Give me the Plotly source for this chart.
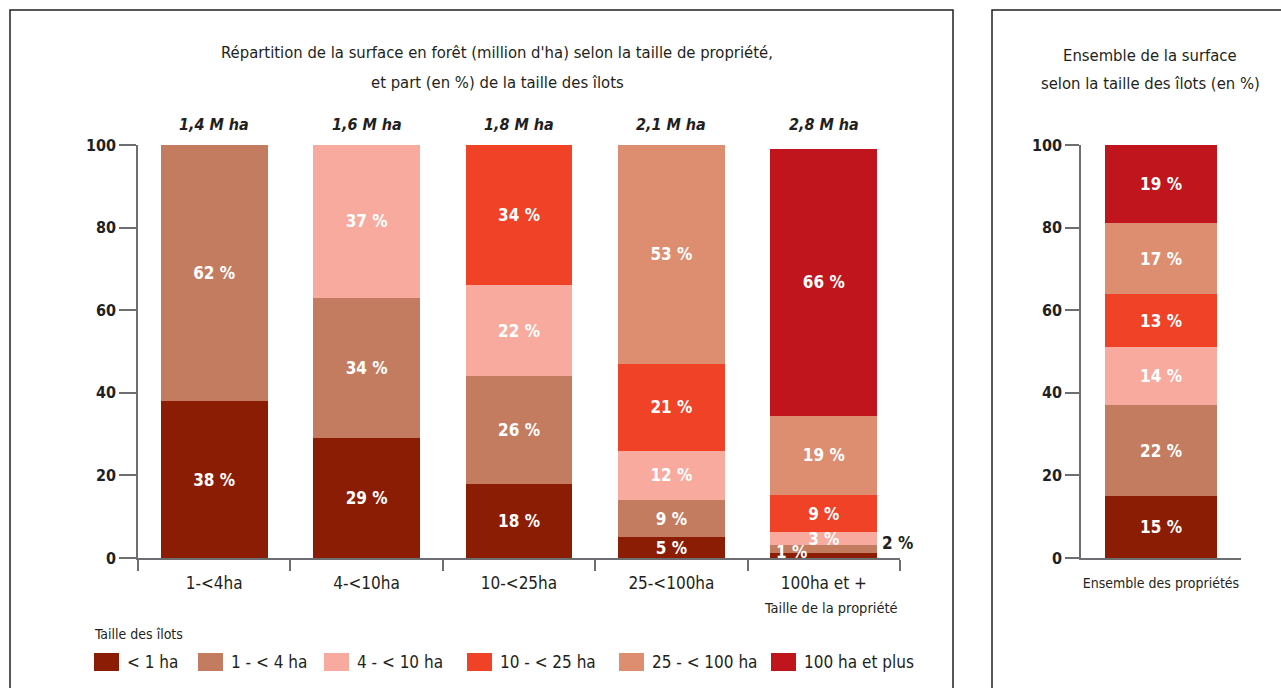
import plotly.graph_objects as go

# ---------------- data ----------------
categories = ["1-<4ha", "4-<10ha", "10-<25ha", "25-<100ha", "100ha et +"]
totals_mha = [1.4, 1.6, 1.8, 2.1, 2.8]

series_names = ["< 1 ha", "1 - < 4 ha", "4 - < 10 ha", "10 - < 25 ha", "25 - < 100 ha", "100 ha et plus"]
colors = ["#8b1d04", "#c47c61", "#f7aa9d", "#ef4226", "#dd8d70", "#c0151c"]

lt1 = [38, 29, 18, 5, 1.3]
s1_4 = [62, 34, 26, 9, 1.9]
s4_10 = [None, 37, 22, 12, 3]
s10_25 = [None, None, 34, 21, 9]
s25_100 = [None, None, None, 53, 19.3]
s100p = [None, None, None, None, 64.6]

lbl_lt1 = ["38", "29", "18", "5", "1"]
lbl_1_4 = ["62", "34", "26", "9", "2"]
lbl_4_10 = ["", "37", "22", "12", "3"]
lbl_10_25 = ["", "", "34", "21", "9"]
lbl_25_100 = ["", "", "", "53", "19"]
lbl_100p = ["", "", "", "", "66"]

overall_category = ["Ensemble des propriétés"]
overall = [15, 22, 14, 13, 17, 19]

y_ticks = [0, 20, 40, 60, 80, 100]

title_left = ["Répartition de la surface en forêt (million d'ha) selon la taille de propriété,",
              "et part (en %) de la taille des îlots"]
title_right = ["Ensemble de la surface", "selon la taille des îlots (en %)"]

# ---------------- figure ----------------
W, H = 1281, 688
FONT = "DejaVu Sans Condensed, Liberation Sans Narrow, sans-serif"
TXT = "#231f20"
AX = "#6d6e71"

def px_x(p):
    return p / W

def px_y(p):
    return 1 - p / H

fig = go.Figure()

left_series = [lt1, s1_4, s4_10, s10_25, s25_100, s100p]
left_labels = [lbl_lt1, lbl_1_4, lbl_4_10, lbl_10_25, lbl_25_100, lbl_100p]

special = {(0, 4), (1, 4)}
LBL = 17

for i, (name, vals, lbls, col) in enumerate(zip(series_names, left_series, left_labels, colors)):
    texts = []
    for j, l in enumerate(lbls):
        if l == "" or (i, j) in special:
            texts.append("")
        else:
            texts.append(l + " %")
    fig.add_trace(go.Bar(
        x=categories, y=vals, name=name, marker=dict(color=col, line=dict(width=0)),
        width=0.70, text=texts, textposition="inside", insidetextanchor="middle",
        textangle=0, constraintext="none",
        textfont=dict(family=FONT, size=LBL, color="white", weight="bold"),
        xaxis="x", yaxis="y", showlegend=False, hoverinfo="skip",
    ))

for i, (name, v, col) in enumerate(zip(series_names, overall, colors)):
    fig.add_trace(go.Bar(
        x=overall_category, y=[v], name=name, marker=dict(color=col, line=dict(width=0)),
        width=0.706, text=[f"{v} %"], textposition="inside", insidetextanchor="middle",
        textangle=0, constraintext="none",
        textfont=dict(family=FONT, size=LBL, color="white", weight="bold"),
        xaxis="x2", yaxis="y2", showlegend=False, hoverinfo="skip",
    ))

ydom = [px_y(558), px_y(145)]

axis_common = dict(showgrid=False, zeroline=False, showline=True, linecolor=AX, linewidth=1.5,
                   fixedrange=True, automargin=False)

fig.update_layout(
    width=W, height=H, margin=dict(l=0, r=0, t=0, b=0, pad=0, autoexpand=False),
    paper_bgcolor="white", plot_bgcolor="white",
    barmode="stack", showlegend=False,
    font=dict(family=FONT, color=TXT),
    xaxis=dict(domain=[px_x(138), px_x(900)], range=[-0.5, 4.5], type="category",
               ticks="outside", tickson="boundaries", ticklen=11, tickcolor=AX, tickwidth=1.5,
               ticklabelstandoff=9,
               tickfont=dict(family=FONT, size=17, color=TXT), anchor="y", **axis_common),
    yaxis=dict(domain=ydom, range=[0, 100], tickvals=y_ticks, ticks="outside", ticklen=17,
               tickcolor=AX, tickwidth=1.5, anchor="x",
               tickfont=dict(family=FONT, size=16, color=TXT, weight="bold"), **axis_common),
    xaxis2=dict(domain=[px_x(1081), px_x(1241)], range=[-0.5, 0.5], type="category",
                ticks="", ticklabelstandoff=11,
                tickfont=dict(family=FONT, size=14, color=TXT), anchor="y2",
                **axis_common),
    yaxis2=dict(domain=ydom, range=[0, 100], tickvals=y_ticks, ticks="outside", ticklen=14,
                tickcolor=AX, tickwidth=1.5, anchor="x2",
                tickfont=dict(family=FONT, size=16, color=TXT, weight="bold"), **axis_common),
)

def pann(text, x, y, size, xanchor="center", **kw):
    return dict(text=text, x=px_x(x), y=px_y(y), xref="paper", yref="paper", showarrow=False,
                xanchor=xanchor, yanchor="middle", font=dict(family=FONT, size=size, color=TXT), **kw)

ann = []
ann.append(pann(title_left[0], 497, 52, 16.5))
ann.append(pann(title_left[1], 497, 82, 16.5))
ann.append(pann(title_right[0], 1150, 55, 16.5))
ann.append(pann(title_right[1], 1150, 83, 16.5))

for c, t in zip(categories, totals_mha):
    ann.append(dict(text=f"{t:.1f}".replace(".", ",") + " M ha", x=c, y=100, xref="x", yref="y",
                    yanchor="bottom", xanchor="center", yshift=9, showarrow=False,
                    font=dict(family=FONT, size=16, color=TXT, weight="bold", style="italic")))
ann.append(dict(text=lbl_lt1[4] + " %", x=categories[4], y=lt1[4] / 2, xref="x", yref="y",
                xanchor="center", yanchor="middle", xshift=-32, yshift=3, showarrow=False,
                font=dict(family=FONT, size=LBL, color="white", weight="bold")))
ann.append(dict(text=lbl_1_4[4] + " %", x=categories[4], y=lt1[4] + s1_4[4] / 2, xref="x", yref="y",
                xanchor="center", yanchor="middle", xshift=74, yshift=6, showarrow=False,
                font=dict(family=FONT, size=LBL, color=TXT, weight="bold")))
ann.append(pann("Taille de la propriété", 831, 608, 14.5))
ann.append(pann("Taille des îlots", 92, 634, 14, xanchor="left"))

shapes = []
leg_x = [94, 198, 324, 467, 619, 771]
for lx, name, col in zip(leg_x, series_names, colors):
    shapes.append(dict(type="rect", xref="paper", yref="paper", x0=px_x(lx), x1=px_x(lx + 25),
                       y0=px_y(671), y1=px_y(653), fillcolor=col, line=dict(width=0)))
    ann.append(pann(name, lx + 31, 662, 17, xanchor="left"))

shapes.append(dict(type="rect", xref="paper", yref="paper", x0=px_x(10), x1=px_x(953),
                   y0=-0.05, y1=px_y(10), line=dict(color="#231f20", width=1.5)))
shapes.append(dict(type="rect", xref="paper", yref="paper", x0=px_x(992), x1=1.05,
                   y0=-0.05, y1=px_y(10), line=dict(color="#231f20", width=1.5)))

fig.update_layout(annotations=ann, shapes=shapes)
fig.write_html("out.html", config={"displayModeBar": False},
               post_script="document.body.style.margin='0';document.body.style.overflow='hidden';")
